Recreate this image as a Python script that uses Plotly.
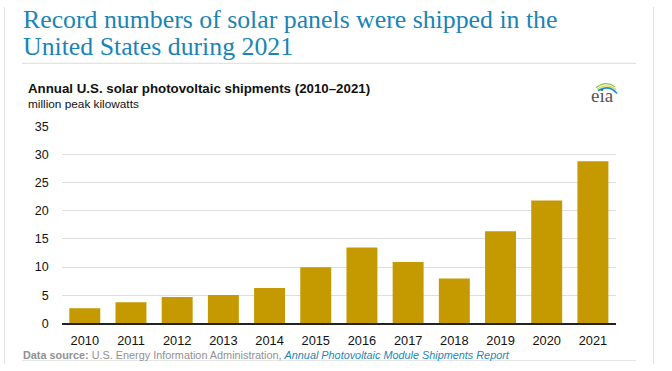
import plotly.graph_objects as go

W, H = 672, 371

years = ["2010", "2011", "2012", "2013", "2014", "2015", "2016", "2017", "2018", "2019", "2020", "2021"]
shipments = [2.68, 3.76, 4.68, 5.02, 6.27, 9.98, 13.45, 10.9, 7.98, 16.36, 21.8, 28.8]
y_ticks = [0, 5, 10, 15, 20, 25, 30, 35]

title_lines = ["Record numbers of solar panels were shipped in the", "United States during 2021"]
chart_title = "Annual U.S. solar photovoltaic shipments (2010–2021)"
units = "million peak kilowatts"
source_html = ("<b>Data source:</b> U.S. Energy Information Administration, "
               "<i><span style='color:#1a86b8'>Annual Photovoltaic Module Shipments Report</span></i>")


def px(x):
    return x / W


def py(y):
    return 1 - y / H


BAR = "#c49a00"
TITLE_C = "#1a84b6"

fig = go.Figure()
fig.add_trace(go.Bar(
    x=years, y=shipments, marker=dict(color=BAR, line=dict(width=0)),
    hoverinfo="x+y",
))

fig.update_layout(
    width=W, height=H,
    margin=dict(l=0, r=0, t=0, b=0),
    paper_bgcolor="white", plot_bgcolor="white",
    showlegend=False,
    bargap=0.33,
    font=dict(family="Liberation Sans, Arial, sans-serif", color="#111"),
    xaxis=dict(
        domain=[px(61.7), px(616)],
        type="category",
        showgrid=False, showline=True, linecolor="#222", linewidth=1.5,
        ticks="", tickfont=dict(size=12.8, color="#111"),
        ticklabelstandoff=5,
        fixedrange=True,
    ),
    yaxis=dict(
        domain=[py(328.7), py(124)],
        range=[0, 35], tickvals=y_ticks,
        showgrid=True, gridcolor="#dedede", gridwidth=1,
        zeroline=False, showline=False, ticks="",
        tickfont=dict(size=12.5, color="#111"),
        ticklabelstandoff=12,
        fixedrange=True,
    ),
)

annotations = []
# Title (two lines, tight leading)
annotations.append(dict(text=title_lines[0], x=px(21), y=py(13.5), xref="paper", yref="paper",
                        xanchor="left", yanchor="middle", showarrow=False,
                        font=dict(family="Liberation Serif, Times New Roman, serif", size=25.8, color=TITLE_C)))
annotations.append(dict(text=title_lines[1], x=px(21), y=py(41), xref="paper", yref="paper",
                        xanchor="left", yanchor="middle", showarrow=False,
                        font=dict(family="Liberation Serif, Times New Roman, serif", size=25.8, color=TITLE_C)))
# Chart title and units
annotations.append(dict(text="<b>" + chart_title + "</b>", x=px(26), y=py(84.5), xref="paper", yref="paper",
                        xanchor="left", yanchor="middle", showarrow=False,
                        font=dict(size=13.3, color="#111")))
annotations.append(dict(text=units, x=px(26), y=py(100.5), xref="paper", yref="paper",
                        xanchor="left", yanchor="middle", showarrow=False,
                        font=dict(size=11.8, color="#111")))
# Source
annotations.append(dict(text=source_html, x=px(21), y=py(362), xref="paper", yref="paper",
                        xanchor="left", yanchor="middle", showarrow=False,
                        font=dict(size=10.85, color="#909090")))
# eia logo text
annotations.append(dict(text="eia", x=px(602), y=py(92), xref="paper", yref="paper",
                        xanchor="center", yanchor="middle", showarrow=False,
                        font=dict(family="Liberation Serif, Times New Roman, serif", size=19, color="#555")))
fig.update_layout(annotations=annotations)


def pth(points):
    (x0, y0), (cx, cy), (x1, y1) = points
    return f"M {px(x0)},{py(y0)} Q {px(cx)},{py(cy)} {px(x1)},{py(y1)}"


shapes = [
    # frame borders
    dict(type="line", xref="paper", yref="paper", x0=px(4.5), x1=px(4.5), y0=0, y1=1,
         line=dict(color="#e3e3e3", width=1)),
    dict(type="line", xref="paper", yref="paper", x0=px(653.5), x1=px(653.5), y0=0, y1=1,
         line=dict(color="#e3e3e3", width=1)),
    # separator under title
    dict(type="line", xref="paper", yref="paper", x0=px(22), x1=px(636), y0=py(58.5), y1=py(58.5),
         line=dict(color="#dcdcdc", width=1)),
    # line under source
    dict(type="line", xref="paper", yref="paper", x0=px(22), x1=px(636), y0=py(367.5), y1=py(367.5),
         line=dict(color="#e3e3e3", width=1)),
    # logo arcs
    dict(type="path", xref="paper", yref="paper", path=pth([(596, 84), (606, 76), (615, 83)]),
         line=dict(color="#8cc63f", width=1.2)),
    dict(type="path", xref="paper", yref="paper", path=pth([(597, 85.5), (607, 78), (616, 86)]),
         line=dict(color="#d7d54a", width=1.2)),
    dict(type="path", xref="paper", yref="paper", path=pth([(598, 87), (609, 80), (617, 90)]),
         line=dict(color="#1c8fc9", width=1.6)),
]
fig.update_layout(shapes=shapes)

fig.write_html(
    "out.html",
    config={"displayModeBar": False},
    post_script="document.body.style.margin='0';document.body.style.padding='0';document.body.style.overflow='hidden';",
)
